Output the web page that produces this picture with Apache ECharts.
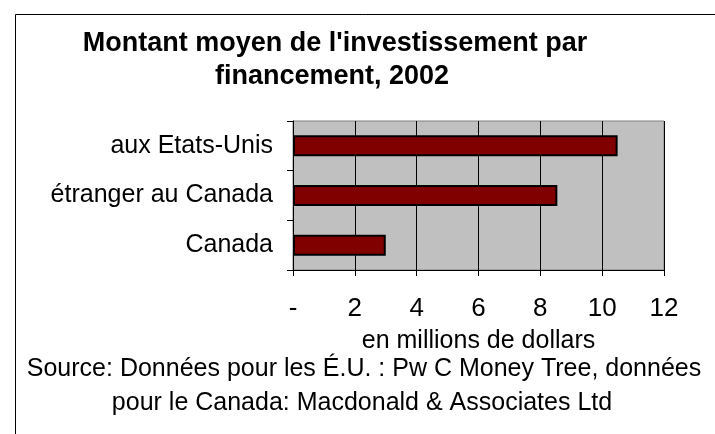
<!DOCTYPE html>
<html>
<head>
    <meta charset="utf-8">
    <title>Montant moyen de l'investissement par financement, 2002</title>
    <script type="text/javascript" src="https://cdn.jsdelivr.net/npm/echarts@6/dist/echarts.min.js"></script>
    <style>
        html, body { margin: 0; padding: 0; background: #fff; }
    </style>
</head>
<body>
<div id="main" style="width:715px;height:434px;"></div>

<script type="text/javascript">
    // donnees
    var categories = ['Canada', 'étranger au Canada', 'aux Etats-Unis'];
    var montants = [3.0, 8.55, 10.5];
    var titreLignes = ["Montant moyen de l'investissement par", 'financement, 2002'];
    var sourceLignes = ['Source: Données pour les É.U. : Pw C Money Tree, données', 'pour le Canada: Macdonald & Associates Ltd'];
    var nomAxe = 'en millions de dollars';

    var police = '"Liberation Sans", Arial, sans-serif';
    var chart = echarts.init(document.getElementById('main'));

    var option = {
        backgroundColor: '#fff',
        animation: false,
        title: [
            {text: titreLignes[0], left: 335, top: 30, textAlign: 'center', padding: 0,
             textStyle: {fontFamily: police, fontSize: 27, fontWeight: 'bold', color: '#000'}},
            {text: titreLignes[1], left: 332, top: 63, textAlign: 'center', padding: 0,
             textStyle: {fontFamily: police, fontSize: 27, fontWeight: 'bold', color: '#000'}}
        ],
        graphic: [
            {type: 'rect', left: 13, top: 12, silent: true,
             shape: {width: 720, height: 440},
             style: {fill: 'none', stroke: '#000', lineWidth: 1}},
            {type: 'text', x: 364, y: 369, silent: true,
             style: {text: sourceLignes[0], font: '25px ' + police, fill: '#000', align: 'center', verticalAlign: 'middle'}},
            {type: 'text', x: 362, y: 403, silent: true,
             style: {text: sourceLignes[1], font: '25px ' + police, fill: '#000', align: 'center', verticalAlign: 'middle'}}
        ],
        grid: {
            left: 293, right: 51, top: 121, bottom: 164,
            show: true,
            backgroundColor: '#C0C0C0',
            borderColor: '#808080',
            borderWidth: 1
        },
        xAxis: {
            type: 'value',
            min: 0, max: 12, interval: 2,
            name: nomAxe,
            nameLocation: 'middle',
            nameGap: 59,
            nameTextStyle: {fontFamily: police, fontSize: 25, color: '#000'},
            axisLine: {show: true, lineStyle: {color: '#000', width: 1}},
            axisTick: {show: true, length: 6, lineStyle: {color: '#000'}},
            axisLabel: {
                fontFamily: police, fontSize: 26, color: '#000', margin: 26,
                formatter: function (v) { return v === 0 ? '-' : v; }
            },
            splitLine: {show: true, lineStyle: {color: '#000', width: 1}}
        },
        yAxis: {
            type: 'category',
            data: categories,
            axisLine: {show: true, lineStyle: {color: '#000', width: 1}},
            axisTick: {show: true, length: 6, lineStyle: {color: '#000'}},
            axisLabel: {fontFamily: police, fontSize: 25, color: '#000', margin: 20},
            splitLine: {show: false}
        },
        series: [{
            type: 'bar',
            data: montants,
            barWidth: 21,
            itemStyle: {color: '#800000', borderColor: '#000', borderWidth: 2}
        }]
    };
    chart.setOption(option);
</script>
</body>
</html>
